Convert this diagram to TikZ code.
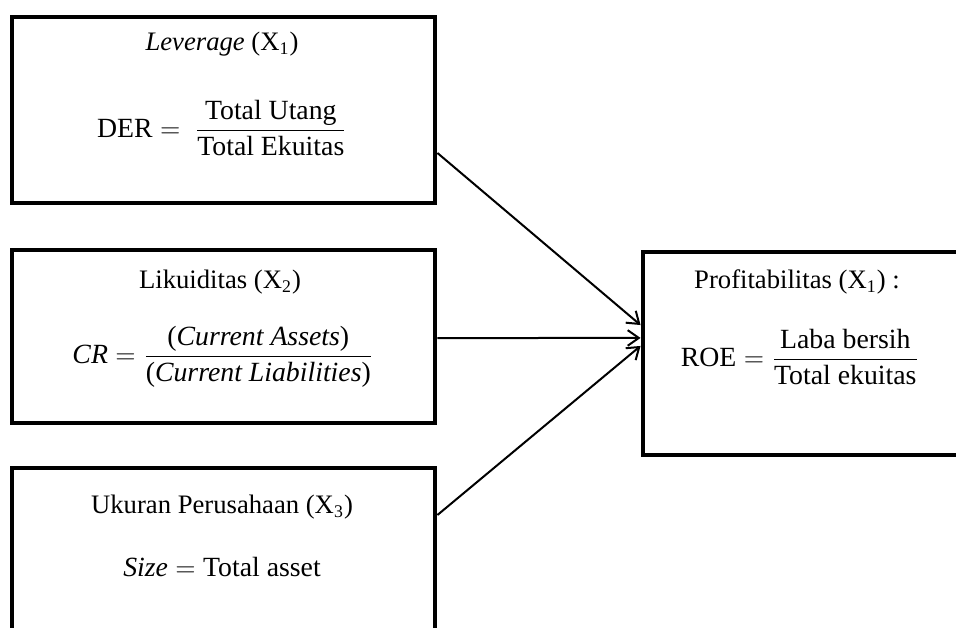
\documentclass[tikz,border=0pt]{standalone}
\usepackage{amsmath}
\usepackage{fontspec}
\setmainfont{Liberation Serif}
\usetikzlibrary{arrows.meta,positioning}

\begin{document}
\begin{tikzpicture}[x=0.45pt, y=-0.45pt, font=\fontsize{12}{14}\selectfont,
        box/.style={draw, line width=2.2pt, minimum width=190.35pt, inner sep=0pt},
        eq/.style={font=\fontsize{12.5}{15}\selectfont},
        arr/.style={-{Straight Barb[length=5pt,width=7pt]}, line width=0.9pt}]
    \useasboundingbox (0,0) rectangle (956,628);
    % kotak variabel
    \node[box, minimum height=83.7pt] (lev) at (223.5,110) {};
    \node[box, minimum height=77.85pt] (liq) at (223.5,336.5) {};
    \node[box, minimum height=77.4pt] (ukuran) at (223.5,554) {};
    \node[box, minimum width=147.15pt, minimum height=91.35pt] (prof) at (806.5,353.5) {};
    % teks
    \node (levT) at (222,44) {\textit{Leverage} (X\textsubscript{1})};
    \node[eq] (levEq) at (222,128) {$\text{DER} = \ \dfrac{\text{Total Utang}}{\text{Total Ekuitas}}$};
    \node (liqT) at (220,282) {Likuiditas (X\textsubscript{2})};
    \node[eq] (liqEq) at (223,357) {$\textit{CR} = \dfrac{\text{(\textit{Current Assets})}}{\text{(\textit{Current Liabilities})}}$};
    \node (ukuranT) at (222,507) {Ukuran Perusahaan (X\textsubscript{3})};
    \node[eq] (ukuranEq) at (222,567) {$\textit{Size} = \text{Total asset}$};
    \node (profT) at (797,282) {Profitabilitas (X\textsubscript{1}) :};
    \node[eq] (profEq) at (800,357) {$\text{ROE} = \dfrac{\text{Laba bersih}}{\text{Total ekuitas}}$};
    % panah
    \draw[arr] ([yshift=-19.35pt]lev.east) -- ([yshift=12.8pt]prof.west);
    \draw[arr] ([yshift=-0.7pt]liq.east) -- ([yshift=7pt]prof.west);
    \draw[arr] ([yshift=17.55pt]ukuran.east) -- ([yshift=3.4pt]prof.west);
\end{tikzpicture}
\end{document}
